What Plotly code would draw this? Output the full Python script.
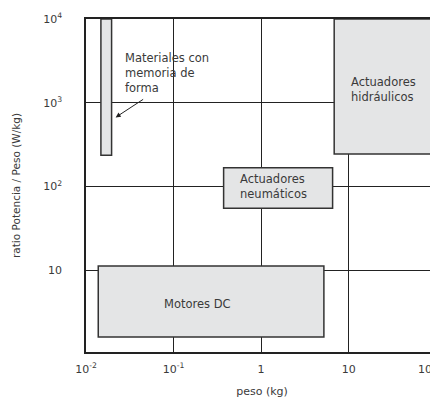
import math
import plotly.graph_objects as go

# ---- data (log-log chart: weight in kg vs power/weight ratio in W/kg) ----
x_tickvals = [0.01, 0.1, 1, 10, 100]
x_ticktext = ["10<sup>-2</sup>", "10<sup>-1</sup>", "1", "10",
              "10<sup>2</sup>&nbsp;&nbsp;&nbsp;&nbsp;&nbsp;"]
y_tickvals = [10, 100, 1000, 10000]
y_ticktext = ["10", "10<sup>2</sup>", "10<sup>3</sup>", "10<sup>4</sup>"]

region_names = ["Materiales con<br>memoria de<br>forma", "Actuadores<br>hidráulicos",
                "Actuadores<br>neumáticos", "Motores DC"]
weight_min = [0.0148, 6.83, 0.373, 0.0138]
weight_max = [0.0196, 300, 6.55, 5.21]
ratio_min = [235, 244, 54.8, 1.59]
ratio_max = [10000, 10000, 166.7, 11.2]

label_x = [0.0265, 10.05, 0.543, 0.1875]
label_y = [2244, 1452, 99.8, 3.99]
label_anchor = ["left", "left", "left", "center"]

arrow_tip = (0.0218, 668)

x_title = "peso (kg)"
y_title = "ratio Potencia / Peso (W/kg)"

FONT = "DejaVu Sans"
TXT = "#3a3a3a"
LINE = "#222222"

fig = go.Figure()
fig.add_trace(go.Scatter(x=[0.01, 100], y=[10, 1000], mode="markers",
                         marker=dict(opacity=0), hoverinfo="skip", showlegend=False))

for x0, x1, y0, y1 in zip(weight_min, weight_max, ratio_min, ratio_max):
    fig.add_shape(type="rect", xref="x", yref="y", x0=x0, x1=x1, y0=y0, y1=y1,
                  fillcolor="#e4e5e6", line=dict(color="#333333", width=1.5),
                  layer="above")

# annotations on log axes take log10 positions
for name, lx, ly, anc in zip(region_names, label_x, label_y, label_anchor):
    fig.add_annotation(x=math.log10(lx), y=math.log10(ly), xref="x", yref="y",
                       text=name, showarrow=False,
                       xanchor=anc, yanchor="middle", align="left",
                       font=dict(family=FONT, size=11.5, color=TXT))

fig.add_annotation(x=math.log10(arrow_tip[0]), y=math.log10(arrow_tip[1]),
                   xref="x", yref="y", text="",
                   showarrow=True, ax=29, ay=-19, arrowhead=2, arrowsize=1,
                   arrowwidth=1, arrowcolor="#222222")

fig.update_xaxes(type="log", range=[-2, 2.02], tickvals=x_tickvals, ticktext=x_ticktext,
                 showgrid=True, gridcolor=LINE, gridwidth=1, zeroline=False,
                 showline=True, linecolor=LINE, linewidth=1.5, mirror=True,
                 ticks="", ticklabelstandoff=6, ticklabeloverflow="allow",
                 automargin=False,
                 tickfont=dict(family=FONT, size=11, color=TXT),
                 title=dict(text=x_title, standoff=12,
                            font=dict(family=FONT, size=11, color=TXT)))
fig.update_yaxes(type="log", range=[0.022, 4], tickvals=y_tickvals, ticktext=y_ticktext,
                 showgrid=True, gridcolor=LINE, gridwidth=1, zeroline=False,
                 showline=True, linecolor=LINE, linewidth=1.5, mirror=False,
                 ticks="", ticklabelstandoff=20, automargin=False,
                 tickfont=dict(family=FONT, size=11, color=TXT),
                 title=dict(text=y_title, standoff=20,
                            font=dict(family=FONT, size=10.5, color=TXT)))

# page body has an 8px margin, so the figure is 8px smaller to land on the same pixels
fig.update_layout(width=430, height=391, margin=dict(l=78, r=0, t=11, b=47),
                  plot_bgcolor="white", paper_bgcolor="white", showlegend=False)

fig.write_html("out.html")
